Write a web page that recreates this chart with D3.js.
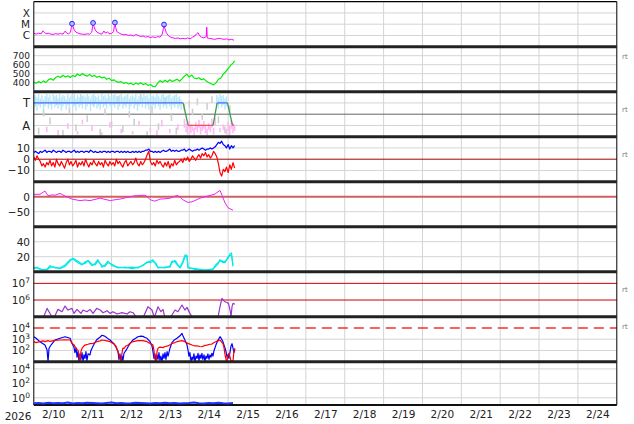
<!DOCTYPE html>
<html><head><meta charset="utf-8">
<script src="https://cdn.jsdelivr.net/npm/d3@7"></script>
<style>body{margin:0;background:#fff}svg{display:block}text{font-family:"DejaVu Sans",sans-serif}</style>
</head><body>
<svg id="c" width="634" height="424"></svg>
<script>
// ---------------- DATA (hours after 2026-02-10 00:00 UTC) ----------------
const yearLabel = "2026";
const dayLabels = ["2/10","2/11","2/12","2/13","2/14","2/15","2/16","2/17","2/18","2/19","2/20","2/21","2/22","2/23","2/24"];

// X-ray flux (W/m2)
const xrayFlux = [[0,1.6e-6],[1.5,1.3e-6],[3,1.6e-6],[4.5,1.4e-6],[5.7,2.6e-6],[6.5,2.0e-6],[7.5,1.4e-6],[9,1.6e-6],[10.5,1.3e-6],[12,1.25e-6],[13.5,1.45e-6],[15,1.3e-6],[16.5,1.5e-6],[18,1.3e-6],[19.3,2.4e-6],[20.3,1.6e-6],[21.5,1.4e-6],[22.6,1.9e-6],[23.2,5e-6],[23.6,1.1e-5],[24.2,6e-6],[25,3e-6],[26,2e-6],[27.3,1.6e-6],[28.5,1.4e-6],[30,1.3e-6],[31.6,1.25e-6],[33,1.4e-6],[34.5,1.3e-6],[35.8,2.0e-6],[36.3,6e-6],[36.6,1.3e-5],[37.2,6e-6],[38,3e-6],[39,2e-6],[40.5,1.5e-6],[42,1.3e-6],[43.3,2.5e-6],[44.2,1.6e-6],[45.5,2.1e-6],[46.5,1.4e-6],[48,1.5e-6],[49.3,2.2e-6],[49.8,8e-6],[50.1,1.4e-5],[50.6,5e-6],[51.2,2.2e-6],[52.5,1.7e-6],[54,1.3e-6],[55.5,1.15e-6],[57,1.2e-6],[58.5,1.0e-6],[60,1.1e-6],[61.5,9e-7],[63,1.2e-6],[64.5,1.0e-6],[66,8e-7],[67.5,9e-7],[69,7e-7],[70.5,8e-7],[72,6.5e-7],[73.5,7.5e-7],[75,6.5e-7],[76.5,8e-7],[78,7e-7],[79.3,1.3e-6],[80,4e-6],[80.4,9.3e-6],[81,4e-6],[81.8,1.8e-6],[83,1.0e-6],[84.5,7e-7],[86,6e-7],[87.5,5.5e-7],[89,6e-7],[90.5,5e-7],[92,5.5e-7],[93.5,5e-7],[95,6e-7],[96.5,5e-7],[98,7e-7],[99.5,9e-7],[100.5,1.4e-6],[101.4,1.75e-6],[102.3,1.0e-6],[103.5,7e-7],[105,6e-7],[106.5,8e-7],[106.8,5.4e-6],[107.1,6e-7],[108.5,5.5e-7],[110,5e-7],[111.5,4.5e-7],[113,5e-7],[114.5,5.5e-7],[116,5e-7],[117.5,4.5e-7],[119,5e-7],[120.5,4e-7],[122,4.5e-7],[123.6,3.8e-7]];
const flarePeaks = [[23.6,1.1e-5],[36.6,1.3e-5],[50.1,1.4e-5],[80.4,9.3e-6]];
const xrayClassLevels = [1e-6,1e-5,1e-4];
const xrayClassLabels = ["C","M","X"];

// Solar wind speed (km/s)
const windSpeed = [[0,405],[1.5,395],[3,412],[4.5,398],[6,420],[7.5,403],[9,432],[10.5,445],[12,428],[13.5,458],[15,472],[16.5,458],[18,482],[19.5,463],[21,477],[22.5,458],[24,480],[25.5,468],[27,497],[28.5,478],[30,502],[31.5,484],[33,473],[34.5,492],[36,468],[37.5,481],[39,460],[40.5,472],[42,452],[43.5,462],[45,438],[46.5,450],[48,423],[49.5,432],[51,412],[52.5,404],[54,412],[55.5,392],[57,402],[58.5,386],[60,395],[61.5,378],[63,396],[64.5,383],[66,400],[67.5,379],[69,392],[70.5,370],[72,380],[73.5,360],[75,355],[76.5,396],[78,422],[79.5,404],[81,428],[82.5,408],[84,432],[85.5,414],[87,426],[88.5,438],[90,416],[91.5,442],[93,472],[94.5,495],[96,463],[97.5,484],[99,452],[100.5,446],[102,455],[103.5,433],[105,442],[106.5,418],[108,402],[109.5,388],[111,376],[112.5,398],[114,438],[115.5,452],[117,495],[118.5,522],[120,555],[121.5,592],[123,618],[124,642]];
const speedTicks = [400,500,600,700];

// IMF sector (T = +1, A = -1)
const sectorState = [[0,1],[92.2,1],[95.3,-1],[110.7,-1],[113.2,1],[119.6,1],[122.7,-1],[123.6,-1]];
const sectorTicks = [1,-1];
const sectorLabels = ["T","A"];
const phiToward = [[0,0.5,1.6],[1,0.7,1.7],[2,0.3,1.5],[3,0.8,1.8],[4,0.6,1.4],[5,0.9,1.7],[6,0.2,1.3],[7,0.7,1.6],[8,1.0,1.8],[9,0.5,1.5],[10,0.8,1.7],[11,0.4,1.2],[12,0.9,1.8],[13,0.6,1.6],[14,1.0,1.7],[15,0.5,1.4],[16,0.8,1.8],[17,0.3,1.5],[18,0.7,1.7],[19,0.9,1.6],[20,0.4,1.3],[21,0.8,1.8],[22,0.6,1.5],[23,1.0,1.7],[24,0.5,1.6],[25,0.7,1.8],[26,0.3,1.4],[27,0.9,1.7],[28,0.6,1.5],[29,0.8,1.8],[30,0.5,1.6],[31,1.0,1.7],[32,0.4,1.5],[33,0.7,1.8],[34,0.9,1.6],[35,0.3,1.4],[36,0.8,1.7],[37,0.6,1.8],[38,1.0,1.6],[39,0.5,1.5],[40,0.7,1.7],[41,0.4,1.3],[42,0.9,1.8],[43,0.6,1.6],[44,0.8,1.7],[45,0.5,1.4],[46,1.0,1.8],[47,0.7,1.6],[48,0.3,1.5],[49,0.8,1.7],[50,0.6,1.8],[51,0.9,1.6],[52,0.4,1.4],[53,0.7,1.7],[54,1.0,1.8],[55,0.5,1.5],[56,0.8,1.6],[57,0.6,1.7],[58,0.9,1.8],[59,0.4,1.4],[60,0.7,1.6],[61,1.0,1.7],[62,0.5,1.5],[63,0.8,1.8],[64,0.3,1.3],[65,0.7,1.6],[66,0.9,1.7],[67,0.6,1.5],[68,1.0,1.8],[69,0.5,1.6],[70,0.8,1.7],[71,0.4,1.4],[72,0.9,1.8],[73,0.6,1.6],[74,0.8,1.7],[75,0.5,1.5],[76,1.0,1.8],[77,0.7,1.6],[78,0.4,1.4],[79,0.9,1.7],[80,0.6,1.8],[81,0.8,1.5],[82,0.5,1.6],[83,1.0,1.7],[84,0.7,1.8],[85,0.4,1.4],[86,0.8,1.6],[87,0.6,1.7],[88,0.9,1.8],[89,0.5,1.5],[90,0.7,1.6],[91,0.4,1.3],[113,0.8,1.7],[114,0.5,1.5],[115,0.9,1.8],[116,0.6,1.6],[117,0.8,1.7],[118,0.4,1.4],[119,0.7,1.6]];
const phiMixed = [[3,-1.8,-1.2],[6,-0.2,0.4],[10,-0.9,-0.3],[14,0.8,1.4],[18,-1.9,-1.4],[22,0.0,0.6],[26,-1.5,-0.9],[29,1.1,1.7],[33,-0.7,-0.1],[37,0.7,1.3],[41,-1.9,-1.3],[44,-0.1,0.5],[48,-1.2,-0.6],[52,1.0,1.6],[55,-1.6,-1.0],[59,-0.3,0.3],[62,-1.0,-0.4],[66,1.2,1.8],[70,-1.9,-1.5],[73,0.1,0.7],[77,-1.4,-0.8],[81,0.9,1.5],[85,-0.6,0.0],[88,-1.8,-1.2],[93,0.3,0.9],[96,0.6,1.2],[98,-0.1,0.5],[101,0.8,1.4],[104,-0.5,0.1],[107,0.4,1.0],[110,1.0,1.6],[114,-0.8,-0.2],[118,-1.7,-1.1],[121,0.2,0.8]];
const phiAway = [[8,-1.6,-1.1],[15,-1.9,-1.4],[21,-1.3,-0.8],[27,-1.8,-1.5],[30,-0.9,-0.5],[36,-1.5,-1.0],[42,-1.9,-1.6],[47,-1.2,-0.7],[54,-1.7,-1.3],[61,-1.8,-1.5],[65,-1.0,-0.6],[72,-1.6,-1.2],[76,-1.9,-1.4],[79,-1.1,-0.5],[84,-1.7,-1.3],[89,-1.4,-0.9],[93,-1.2,-0.4],[94,-1.6,-0.8],[95,-1.8,-1.0],[96,-1.3,-0.6],[97,-1.7,-0.9],[98,-1.5,-1.1],[99,-1.9,-1.2],[100,-1.4,-0.7],[101,-1.6,-1.0],[102,-1.2,-0.5],[103,-1.8,-1.1],[104,-1.5,-0.9],[105,-1.3,-0.6],[106,-1.7,-1.0],[107,-1.9,-1.3],[108,-1.4,-0.8],[109,-1.6,-1.1],[110,-1.2,-0.4],[111,-1.8,-1.2],[112,-1.0,-0.3],[115,-1.6,-1.2],[117,-1.4,-0.9],[119,-1.8,-1.3],[120,-1.5,-0.7],[121,-1.9,-1.0],[122,-1.3,-0.5],[123,-1.7,-0.8],[124,-1.5,-0.9]];

// IMF Bt and Bz (nT), hourly from hour 0
const imfBt = [6,7,6,5,7,6,7,8,6,7, 7,6,8,7,6,7,7,6,8,7, 6,7,7,6,7,8,6,7,6,7, 7,6,7,7,6,8,7,6,7,6, 6,7,6,7,7,6,7,6,7,7, 6,7,7,6,7,6,7,6,7,6, 6,7,6,7,6,7,6,7,7,8, 8,9,7,7,6,7,6,7,6,7, 8,7,7,8,9,7,8,7,8,7, 7,8,8,9,7,8,9,8,7,8, 8,9,8,9,10,9,8,9,9,10, 9,10,11,13,15,14,16,13,12,10, 13,9,12,10,12];
const imfBz = [2,-1,3,0,-2,-6,-4,-7,-3,-5, -1,-6,-3,-7,0,-4,-6,-2,-5,-8, -3,0,-5,-2,-6,-4,-1,-7,-3,-5, -2,-6,0,-4,-7,-3,-5,-1,-4,-6, -2,-5,-3,-7,-1,-4,-6,-2,-5,-3, -6,0,-4,-2,-5,-7,-3,-1,-6,-4, -2,-5,-3,1,-4,-6,-2,-5,-3,0, 4,7,-2,-5,-3,-6,-1,-4,-2,-5, -7,-3,-6,-2,-8,-4,-6,-1,-5,-3, -2,0,-3,1,-1,2,-2,0,3,1, -1,2,4,1,5,3,6,2,4,1, 3,7,5,2,-4,-12,-15,-9,-11,-7, -12,-5,-9,-3,-8];
const imfTicks = [10,0,-10];

// Dst (nT)
const dstIndex = [[0,8],[3.8,8],[6.9,19],[8.8,3],[11.2,6],[13.1,5],[16.2,11],[19.3,2],[23.6,-8],[28.5,-13],[31.6,-11],[34.7,-13],[37.8,-9],[41,-5],[44,-9],[47.2,-13],[50.3,-10],[53.2,-8],[56.3,-4],[59.4,0],[62.5,3],[65.6,4],[68.7,5],[70.5,-2],[71.8,-10],[74.8,-15],[77.9,-8],[81,-7],[84.1,-5],[87.2,2],[89,4],[92,-10],[95.1,-19],[97.7,-17],[100.2,-11],[102.6,-5],[105.7,0],[108.8,4],[111.9,9],[115,21],[116.2,5],[118.1,-21],[120,-37],[121.8,-42],[123,-45]];
const dstTicks = [0,-50];

// Proton density (cm^-3), two instruments
const densityA = [[0,6],[2,5],[5,2],[8,3],[10,8],[13.1,5],[16.2,5],[19.3,9],[22.4,16],[24.2,17],[27.3,12],[29.8,9],[31.6,13],[33.5,14],[35.9,8],[37.8,11],[39.6,16],[42.1,6],[43.9,9],[45.8,14],[48.3,8],[52,6],[56.3,5],[60.6,6],[64.3,5],[67.4,9],[69.9,12],[71.8,14],[73.6,16],[75.5,9],[76.7,6],[81,5],[84.1,8],[85.3,12],[87.2,15],[89,9],[90.3,6],[92.1,14],[93.3,22],[94.6,22],[95.2,6],[99.5,3],[102.6,2],[105.7,2],[108.8,2],[110.6,4],[111.9,6],[113.7,10],[114.9,16],[116.8,12],[118.1,14],[120,18],[121.2,24],[122.1,25],[123,7]];
const densityB = [[0,4],[2,6],[5,3],[8,2],[10,6],[13,6],[16,4],[19.3,7],[22.4,14],[24.2,18],[27.3,14],[29.8,10],[31.6,11],[33.5,15],[35.9,10],[37.8,9],[39.6,14],[42.1,8],[43.9,7],[45.8,12],[48.3,10],[52,5],[56.3,6],[60.6,4],[64.3,6],[67.4,8],[69.9,13],[71.8,12],[73.6,14],[75.5,11],[76.7,5],[81,6],[84.1,6],[85.3,14],[87.2,13],[89,8],[90.3,5],[92.1,12],[93.3,20],[94.6,20],[95.2,5],[99.5,4],[102.6,3],[105.7,2],[108.8,3],[110.6,3],[111.9,8],[113.7,12],[114.9,14],[116.8,14],[118.1,12],[120,20],[121.2,22],[122.1,21],[123,9]];
const densityTicks = [20,40];

// >2 MeV electron fluence, log10 values
const electronExp = [[5.7,4.9],[8.2,5.5],[9.4,5.3],[11.2,5.0],[13.1,5.05],[14.9,5.44],[17.4,5.3],[19.3,5.64],[21.1,5.4],[23.6,5.5],[24.8,5.2],[26.7,5.44],[29.1,5.2],[30.4,5.4],[32.8,5.3],[34.7,5.44],[36.6,5.2],[38.8,5.5],[41,5.4],[42.8,5.24],[45.2,5.36],[47.1,5.2],[48.9,5.3],[51.4,5.16],[54.5,5.24],[57.6,5.16],[59.4,5.3],[61.3,5.24],[63.7,4.9],[66.8,4.8],[70.5,5.6],[73,5.4],[73.9,5.1],[74.8,5.05],[76.7,5.6],[78.5,5.3],[79.8,5.44],[81,4.9],[82.9,4.8],[85.3,5.1],[87.2,5.4],[89,5.3],[91.5,5.7],[93.3,5.4],[94.6,5.56],[96.4,5.2],[98.3,4.9],[104,4.8],[110,4.8],[113.7,4.95],[115,5.6],[116.2,6.1],[117.4,5.95],[118.1,5.9],[119.3,5.85],[120.2,5.8],[121.2,5.4],[121.8,5.0],[122.4,5.6],[123,5.8],[124.2,5.75]];
const electronTicks = [1e6,1e7];
const electronThresholds = [1e6,1e7];

// Energetic particle flux, log10 values
const particleBlueExp = [[0,3.22],[1.4,3.08],[3.8,2.78],[5.7,2.6],[6.9,2.48],[8.2,2.04],[8.8,1.0],[9.4,2.2],[10.6,2.48],[13.1,2.93],[16.2,3.08],[19.3,3.22],[22.4,3.08],[23.6,2.63],[24.8,2.3],[25.4,1.8],[26.1,2.2],[26.7,1.4],[27.3,1.9],[27.9,1.0],[28.5,1.7],[29.1,1.2],[29.8,1.8],[30.4,1.0],[31,1.6],[31.6,1.3],[32.2,1.9],[32.8,1.1],[33.5,1.7],[34.7,1.6],[35.3,2.0],[36.6,2.4],[37.8,2.7],[38.8,2.95],[41,3.2],[42.1,3.35],[43.3,3.3],[44.5,3.2],[45.8,3.05],[47.1,2.93],[48.3,2.75],[49.5,2.6],[50.7,2.3],[52,1.9],[52.6,1.2],[53.2,1.7],[53.8,1.0],[54.5,1.5],[55,1.1],[55.7,1.75],[56.9,2.0],[58.2,2.33],[59.4,2.6],[61.2,2.93],[63.1,3.1],[64.3,3.22],[66.2,3.28],[67.4,3.25],[68.7,3.15],[69.9,3.08],[71.8,2.78],[73,2.4],[73.6,1.9],[74.2,1.3],[74.8,1.7],[75.5,1.0],[76.1,1.6],[76.7,1.2],[77.3,1.8],[77.9,1.1],[78.5,1.5],[79.2,1.0],[79.8,1.7],[80.4,1.3],[81,1.8],[81.6,1.2],[82.3,1.9],[82.9,1.5],[84.1,2.2],[85.3,2.7],[86.5,2.9],[88.4,3.08],[90.3,3.3],[91.5,3.52],[92.1,3.3],[93.3,2.93],[94.6,2.5],[95.2,2.04],[95.8,1.5],[96.4,1.8],[97.1,1.0],[97.7,1.4],[98.3,1.2],[98.9,1.7],[99.5,1.0],[100.2,1.5],[100.8,1.3],[101.4,1.75],[102,1.1],[102.6,1.6],[103.2,1.3],[103.8,1.75],[104.4,1.2],[105.1,1.6],[105.7,1.0],[106.3,1.5],[106.9,1.3],[107.5,1.7],[108.2,1.2],[108.8,1.6],[109.4,1.4],[110,1.75],[110.6,1.5],[111.3,2.0],[112.5,2.5],[113.7,2.9],[115,3.22],[115.6,3.1],[116.8,2.78],[117.4,2.5],[118.1,2.2],[118.7,1.9],[119.3,1.4],[119.9,1.6],[120.5,1.3],[121.2,1.9],[121.8,2.4],[122.4,2.6],[123,2.2],[123.6,1.8],[124.2,2.1]];
const particleRedExp = [[0,2.78],[1.4,2.7],[3.8,2.78],[5.7,2.85],[6.9,2.78],[8.8,2.87],[10,2.8],[13.1,2.9],[16.2,2.93],[19.3,2.95],[22.4,2.93],[23.6,2.63],[24.8,2.5],[25.4,2.33],[26.7,2.1],[27.3,2.0],[27.9,1.6],[28.5,1.0],[29.1,1.9],[29.8,2.2],[31,2.4],[31.6,2.48],[33.5,2.55],[34.7,2.6],[36.6,2.63],[37.8,2.7],[38.8,2.78],[41,2.85],[42.1,2.93],[44.5,2.87],[47.1,2.78],[49.5,2.57],[50.7,2.4],[52,1.89],[52.6,1.6],[53.2,1.3],[53.8,1.0],[54.5,1.8],[55,2.2],[55.7,2.19],[56.9,2.4],[58.2,2.48],[60,2.7],[61.2,2.78],[64.3,2.87],[67.4,2.87],[69.9,2.78],[71.8,2.63],[73.6,2.48],[74.2,2.0],[74.8,1.2],[75.5,1.0],[76.1,1.9],[76.7,2.19],[77.9,2.3],[79.8,2.25],[81,2.35],[82.9,2.4],[84.1,2.5],[85.3,2.63],[87.2,2.7],[88.4,2.78],[91.5,2.87],[93.3,2.78],[95.2,2.63],[97.7,2.48],[99.5,2.4],[100.8,2.4],[102.6,2.35],[103.8,2.33],[105.7,2.45],[106.9,2.48],[108.8,2.55],[110,2.57],[111.3,2.7],[112.5,2.78],[113.7,2.85],[115,2.93],[116.2,2.7],[116.8,2.6],[117.4,2.3],[118.1,1.6],[118.7,1.2],[119.3,1.0],[119.9,1.6],[120.5,1.75],[121.2,1.4],[121.8,1.0],[122.4,1.1],[123,1.0],[123.6,2.0],[124.2,2.2]];
const particleTicks = [1e2,1e3,1e4];
const particleThreshold = 1e4;

// Bottom panel flux, every 3 hours from hour 0
const bottomFlux = [0.13,0.14,0.12,0.15,0.13,0.14,0.13,0.16,0.12,0.14,0.13,0.15,0.14,0.13,0.12,0.14,0.16,0.13,0.14,0.12,0.13,0.15,0.14,0.13,0.12,0.14,0.13,0.15,0.13,0.14,0.12,0.13,0.14,0.16,0.13,0.12,0.14,0.13,0.15,0.13,0.12,0.14];
const bottomTicks = [1e0,1e2,1e4];

// ---------------- CHART ----------------
const svg = d3.select("#c");
const t0 = Date.UTC(2026,1,10), t1 = Date.UTC(2026,1,25);
const x = d3.scaleUtc().domain([t0,t1]).range([33.8,616.8]);
const hx = h => x(t0 + h*3600e3);
const L = 33.8, R = 616.8;
const tops = d3.range(9).map(i => 1.7 + 45*i);
const hts = [45,45,45,45,45,45,45,45,43.3];
const yr = i => [tops[i]+hts[i], tops[i]];

const yX = d3.scaleLog().domain([1e-7,1e-3]).range(yr(0));
const yV = d3.scaleLinear().domain([300,800]).range(yr(1));
const yS = d3.scaleLinear().domain([-2,2]).range(yr(2));
const yB = d3.scaleLinear().domain([-20,20]).range(yr(3));
const yD = d3.scaleLinear().domain([-100,50]).range(yr(4));
const yN = d3.scaleLinear().domain([0,60]).range(yr(5));
const yE = d3.scaleLog().domain([1e5,5e7]).range(yr(6));
const yP = d3.scaleLog().domain([10,1e5]).range(yr(7));
const yF = d3.scaleLog().domain([0.1,1e5]).range(yr(8));

const defs = svg.append("defs");
tops.forEach((t,i)=>{
  defs.append("clipPath").attr("id","cp"+i).append("rect")
    .attr("x",L).attr("y",t).attr("width",R-L).attr("height",hts[i]);
});

const grid = svg.append("g");
const days = d3.utcDays(t0+1, t1);
grid.selectAll("line.v").data(days).join("line")
  .attr("x1",d=>x(d)).attr("x2",d=>x(d)).attr("y1",tops[0]).attr("y2",tops[8]+hts[8])
  .attr("stroke","#d4d4d4").attr("stroke-width",1);

function hgrid(scale, vals, color, w, dash){
  grid.selectAll(null).data(vals).join("line")
    .attr("x1",L).attr("x2",R).attr("y1",d=>scale(d)).attr("y2",d=>scale(d))
    .attr("stroke",color).attr("stroke-width",w||1).attr("stroke-dasharray",dash||null);
}
hgrid(yX, xrayClassLevels, "#d4d4d4");
hgrid(yV, speedTicks, "#d4d4d4");
hgrid(yS, sectorTicks, "#d4d4d4");
hgrid(yS, [0], "#666");
hgrid(yB, [10,-10], "#d4d4d4");
hgrid(yB, [0], "#a00000");
hgrid(yD, [-50], "#d4d4d4");
hgrid(yD, [0], "#d06060", 2);
hgrid(yN, densityTicks, "#d4d4d4");
hgrid(yE, electronThresholds, "#cc0000");
hgrid(yP, [1e2,1e3], "#d4d4d4");
hgrid(yP, [particleThreshold], "#ee3333", 1.5, "10,6");
hgrid(yF, bottomTicks, "#d4d4d4");

function panel(i){ return svg.append("g").attr("clip-path",`url(#cp${i})`); }
function path(g, data, xf, yf, color, w){
  g.append("path").datum(data).attr("fill","none").attr("stroke",color).attr("stroke-width",w||1)
   .attr("stroke-linejoin","round")
   .attr("d", d3.line().x(xf).y(yf));
}
// 1 X-ray
const g0 = panel(0);
path(g0, xrayFlux, d=>hx(d[0]), d=>yX(d[1]), "#ff00ff", 1);
svg.append("g").selectAll("circle").data(flarePeaks).join("circle")
  .attr("cx",d=>hx(d[0])).attr("cy",d=>yX(d[1])).attr("r",2.4)
  .attr("fill","#b8b8ff").attr("stroke","#2222ff").attr("stroke-width",1);
// 2 speed
path(panel(1), windSpeed, d=>hx(d[0]), d=>yV(d[1]), "#00ee00", 1.2);
// 3 sector
const g2 = panel(2);
function bands(g, data, color, w, op){
  g.selectAll(null).data(data).join("rect")
    .attr("x",d=>hx(d[0])-w/2).attr("width",w)
    .attr("y",d=>yS(d[2])).attr("height",d=>yS(d[1])-yS(d[2]))
    .attr("fill",color).attr("opacity",op||1);
}
bands(g2, phiMixed, "#cfcfcf", 1.6);
bands(g2, phiAway, "#ffb8f4", 1.6);
bands(g2, phiToward, "#aee6fb", 1.4, 0.9);
const segs = d3.pairs(sectorState);
g2.selectAll("line.s").data(segs).join("line")
  .attr("x1",d=>hx(d[0][0])).attr("x2",d=>hx(d[1][0]))
  .attr("y1",d=>yS(d[0][1])).attr("y2",d=>yS(d[1][1]))
  .attr("stroke",d=> d[0][1]!==d[1][1] ? "#3f9a4f" : (d[0][1]>0 ? "#4d66ff" : "#ff4d4d"))
  .attr("stroke-width",1.3);
// 4 IMF
const g3 = panel(3);
path(g3, imfBz, (d,i)=>hx(i), d=>yB(d), "#ff0000", 1.2);
path(g3, imfBt, (d,i)=>hx(i), d=>yB(d), "#0000ff", 1.2);
// 5 Dst
path(panel(4), dstIndex, d=>hx(d[0]), d=>yD(d[1]), "#ee22ee", 1);
// 6 density
const g5 = panel(5);
path(g5, densityB, d=>hx(d[0]), d=>yN(d[1]), "#00e8e8", 1.2);
path(g5, densityA, d=>hx(d[0]), d=>yN(d[1]), "#00e8e8", 1.2);
// 7 electrons
path(panel(6), electronExp, d=>hx(d[0]), d=>yE(Math.pow(10,d[1])), "#9933cc", 1.2);
// 8 particles
const g7 = panel(7);
path(g7, particleBlueExp, d=>hx(d[0]), d=>yP(Math.pow(10,d[1])), "#0000ff", 1.2);
path(g7, particleRedExp, d=>hx(d[0]), d=>yP(Math.pow(10,d[1])), "#ff0000", 1.2);

// frame
const frame = svg.append("g");
frame.append("line").attr("x1",L).attr("x2",L).attr("y1",tops[0]).attr("y2",tops[8]+hts[8]).attr("stroke","#000").attr("stroke-width",1);
frame.append("line").attr("x1",R).attr("x2",R).attr("y1",tops[0]).attr("y2",tops[8]+hts[8]).attr("stroke","#000").attr("stroke-width",1);
frame.append("line").attr("x1",L).attr("x2",R).attr("y1",tops[0]).attr("y2",tops[0]).attr("stroke","#000").attr("stroke-width",1.2);
frame.selectAll("line.d").data(tops.slice(1)).join("line")
  .attr("x1",L).attr("x2",R).attr("y1",d=>d).attr("y2",d=>d).attr("stroke","#222").attr("stroke-width",3);
frame.append("line").attr("x1",L).attr("x2",R).attr("y1",tops[8]+hts[8]).attr("y2",tops[8]+hts[8]).attr("stroke","#111").attr("stroke-width",2);

// 9 bottom (drawn over the frame, as in the reference)
path(svg.append("g"), bottomFlux, (d,i)=>hx(i*3), d=>yF(d)-1, "#2233ff", 2);

// y labels
const lab = svg.append("g").attr("fill","#222");
function ylabels(scale, vals, texts, fs){
  const a = d3.axisLeft(scale).tickValues(vals).tickSize(0).tickPadding(0).tickFormat((d,i)=>texts[i]);
  const g = lab.append("g").attr("transform",`translate(${30},0)`).call(a);
  g.select(".domain").remove();
  g.selectAll("text").attr("font-size",fs||10.5).attr("fill","#222").attr("font-family","DejaVu Sans");
  return g;
}
ylabels(yX, xrayClassLevels, xrayClassLabels, 10.5);
ylabels(yV, speedTicks, speedTicks.map(String), 9);
ylabels(yS, sectorTicks, sectorLabels, 11.5);
ylabels(yB, imfTicks, imfTicks.map(v=> v<0 ? "\u2212"+(-v) : String(v)));
ylabels(yD, dstTicks, dstTicks.map(v=> v<0 ? "\u2212"+(-v) : String(v)));
ylabels(yN, densityTicks, densityTicks.map(String));
function powLabels(scale, vals){
  const g = ylabels(scale, vals, vals.map(()=>""));
  g.selectAll("text").each(function(d){
    const t = d3.select(this);
    t.append("tspan").text("10");
    t.append("tspan").attr("dy",-4).attr("font-size",7.5).text(Math.round(Math.log10(d)));
  });
}
powLabels(yE, electronTicks);
powLabels(yP, particleTicks);
powLabels(yF, bottomTicks);

// x axis
const noon = dayLabels.map((s,i)=> t0 + (i+0.5)*86400e3);
const xa = d3.axisBottom(x).tickValues(noon).tickSize(0).tickPadding(0).tickFormat((d,i)=>dayLabels[i]);
const xg = svg.append("g").attr("transform","translate(0,411)").call(xa);
xg.select(".domain").remove();
xg.selectAll("text").attr("font-size",10.5).attr("fill","#222").attr("font-family","DejaVu Sans");
svg.append("text").attr("x",18).attr("y",420).attr("text-anchor","middle").attr("font-size",10.5).attr("fill","#222").text(yearLabel);

// right-side markers
const rtY = [tops[1]+10, tops[2]+18, tops[3]+18, tops[6]+18, tops[7]+10];
svg.append("g").selectAll("text").data(rtY).join("text")
  .attr("x",622).attr("y",d=>d+2).attr("font-size",7).attr("fill","#777").text("rt");
</script>
</body></html>
